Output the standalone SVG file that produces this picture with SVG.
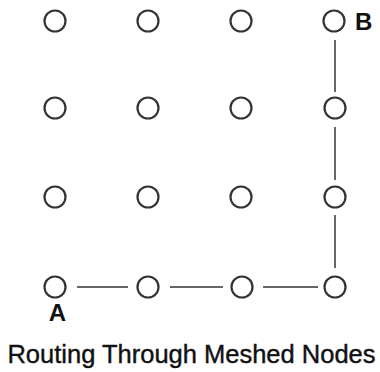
<svg xmlns="http://www.w3.org/2000/svg" width="380" height="372" viewBox="0 0 380 372">
<style>
.node{fill:#fff;stroke:#333;stroke-width:2.2}
.link{stroke:#666;stroke-width:2;fill:none}
.lbl{font-family:"Liberation Sans",Arial,sans-serif;font-weight:bold;font-size:24px;fill:#111}
.title{font-family:"Liberation Sans",Arial,sans-serif;font-size:25.5px;fill:#111;stroke:#111;stroke-width:0.4}
</style>
<rect width="380" height="372" fill="#fff"/>
<g id="connectors">
<line class="link" x1="77" y1="287" x2="128" y2="287"/>
<line class="link" x1="170" y1="287" x2="223" y2="287"/>
<line class="link" x1="263" y1="287" x2="318" y2="287"/>
<line class="link" x1="335" y1="268" x2="335" y2="215"/>
<line class="link" x1="335" y1="180" x2="335" y2="127"/>
<line class="link" x1="335" y1="92" x2="335" y2="40"/>
</g>
<g id="n00"><circle class="node" cx="55" cy="21" r="10.5"/></g>
<g id="n01"><circle class="node" cx="148" cy="21" r="10.5"/></g>
<g id="n02"><circle class="node" cx="241" cy="21" r="10.5"/></g>
<g id="nB"><circle class="node" cx="334" cy="21" r="10.5"/><text class="lbl" x="355" y="30">B</text></g>
<g id="n10"><circle class="node" cx="55" cy="108" r="10.5"/></g>
<g id="n11"><circle class="node" cx="148" cy="108" r="10.5"/></g>
<g id="n12"><circle class="node" cx="241" cy="108" r="10.5"/></g>
<g id="n13"><circle class="node" cx="335" cy="108" r="10.5"/></g>
<g id="n20"><circle class="node" cx="55" cy="197" r="10.5"/></g>
<g id="n21"><circle class="node" cx="148" cy="197" r="10.5"/></g>
<g id="n22"><circle class="node" cx="241" cy="197" r="10.5"/></g>
<g id="n23"><circle class="node" cx="335" cy="197" r="10.5"/></g>
<g id="nA"><circle class="node" cx="55" cy="287" r="10.5"/><text class="lbl" x="57.5" y="321" text-anchor="middle">A</text></g>
<g id="n31"><circle class="node" cx="148" cy="287" r="10.5"/></g>
<g id="n32"><circle class="node" cx="242" cy="287" r="10.5"/></g>
<g id="n33"><circle class="node" cx="335" cy="287" r="10.5"/></g>
<text class="title" x="191.5" y="363" text-anchor="middle">Routing Through Meshed Nodes</text>
</svg>
